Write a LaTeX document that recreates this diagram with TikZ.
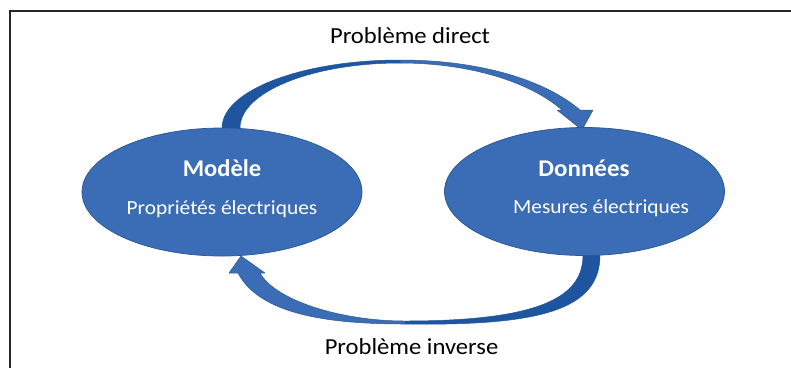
\documentclass[tikz,border=0pt]{standalone}
\usepackage{fontspec}
\setmainfont{Carlito}
\usepackage{graphicx}
\usetikzlibrary{shapes.geometric}
\definecolor{fillblue}{HTML}{3A6DB5}
\definecolor{darkblue}{HTML}{1F559E}
\definecolor{edgeblue}{HTML}{2C5897}
\definecolor{framegray}{HTML}{262626}
\tikzset{
  blob/.style={ellipse, fill=fillblue, draw=edgeblue, line width=0.75pt, minimum width=280pt, minimum height=128pt, inner sep=0pt},
  bandlight/.style={fill=fillblue, draw=edgeblue, line width=0.5pt, line join=round},
  banddark/.style={fill=darkblue, draw=darkblue, line width=0.5pt, line join=round},
  labeltext/.style={anchor=base, inner sep=0pt, text=black, font=\fontsize{23}{27}\selectfont},
  titletext/.style={anchor=base, inner sep=0pt, text=white, font=\fontsize{24}{28}\selectfont\bfseries},
  subtext/.style={anchor=base, inner sep=0pt, text=white, font=\fontsize{20}{24}\selectfont},
  frameline/.style={draw=framegray, line width=2pt}
}
\begin{document}
\begin{tikzpicture}[x=1pt, y=-1pt]
\useasboundingbox (0,0) rectangle (791,368);
% frame
\draw[frameline] (791,11) -- (10,11) -- (10,368);
% upper curved arrow (Probleme direct)
\path[banddark] (222,128) .. controls (222,90.5) and (301.7,60) .. (400,60) -- (400,63) .. controls (312,63) and (240,92) .. (240,128) -- cycle;
\path[bandlight] (400,60) .. controls (480,60) and (545,80) .. (580,110) -- (593,110) -- (582,130) -- (557,110) -- (562,110) .. controls (530,82) and (470,63) .. (400,63) -- cycle;
% lower curved arrow (Probleme inverse)
\path[banddark] (600,255) .. controls (600,310) and (540,326) .. (405,324) -- (405,321) .. controls (545,321) and (583,295) .. (583,255) -- cycle;
\path[bandlight] (405,324) .. controls (330,324) and (260,315) .. (238,273) -- (229,273) -- (241,256) -- (265,273) -- (260,273) .. controls (275,300) and (340,321) .. (405,321) -- cycle;
% ellipses
\node[blob] (modele) at (222,192) {};
\node[blob] (donnees) at (584.5,191.5) {};
% texts
\node[titletext] (tmodele) at (222,176) {\scalebox{1.02}[1]{Modèle}};
\node[subtext] (smodele) at (222,214) {\scalebox{1.07}[1]{Propriétés électriques}};
\node[titletext] (tdonnees) at (584,176) {\scalebox{1.04}[1]{Données}};
\node[subtext] (sdonnees) at (601,213) {\scalebox{1.07}[1]{Mesures électriques}};
\node[labeltext] (direct) at (410,43) {\scalebox{1.07}[1]{Problème direct}};
\node[labeltext] (inverse) at (411.5,354) {\scalebox{1.07}[1]{Problème inverse}};
\end{tikzpicture}
\end{document}
